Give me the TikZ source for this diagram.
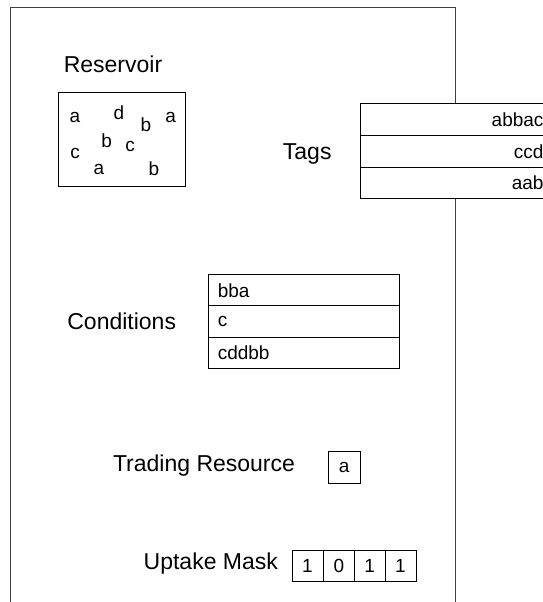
\documentclass[tikz,border=0pt]{standalone}
\usepackage{fontspec}
\setmainfont{Liberation Sans}
\begin{document}
\begin{tikzpicture}[x=1pt,y=-1pt,
  lbl/.style={font=\fontsize{23}{27}\selectfont, inner sep=0pt},
  letter/.style={font=\fontsize{19}{22}\selectfont, inner sep=0pt},
  cell/.style={draw=black, fill=white, line width=1pt, inner sep=0pt, font=\fontsize{19}{22}\selectfont},
  tagrow/.style={cell, anchor=north west, minimum width=220pt, minimum height=31.7pt, text width=146pt, align=right},
  condrow/.style={cell, anchor=north west, minimum width=191pt, minimum height=31.7pt, text width=173pt, align=left},
  maskcell/.style={cell, minimum width=31pt, minimum height=31.7pt},
  frame/.style={draw=black!75, line width=1pt}]
\useasboundingbox[fill=white] (0,0) rectangle (543,602);
% frame
\coordinate (fbl) at (10.5,604);
\coordinate (ftl) at (10.5,8);
\coordinate (ftr) at (455,8);
\coordinate (fbr) at (455,604);
\draw[frame] (fbl) -- (ftl) -- (ftr) -- (fbr);
% reservoir
\node[lbl, anchor=base] (reslbl) at (113,72.3) {Reservoir};
\node[draw, line width=1pt, minimum width=126.7pt, minimum height=94.3pt, inner sep=0pt, anchor=north west] (res) at (58.3,91.7) {};
\node[letter] (r1) at (75,117.7) {a};
\node[letter] (r2) at (119,113) {d};
\node[letter] (r3) at (146,125) {b};
\node[letter] (r4) at (170.7,117.7) {a};
\node[letter] (r5) at (106.7,141) {b};
\node[letter] (r6) at (130,146) {c};
\node[letter] (r7) at (75,153) {c};
\node[letter] (r8) at (99,169) {a};
\node[letter] (r9) at (154,169) {b};
% tags
\node[lbl, anchor=base] (tagslbl) at (307.2,159.3) {Tags};
\node[tagrow] (t1) at (360,103.3) {abbac};
\node[tagrow] (t2) at (360,135) {ccd};
\node[tagrow] (t3) at (360,166.7) {aab};
% conditions
\node[lbl, anchor=base] (condlbl) at (121.7,329.3) {Conditions};
\node[condrow] (c1) at (208.3,274.3) {bba};
\node[condrow] (c2) at (208.3,305) {c};
\node[condrow] (c3) at (208.3,336.7) {cddbb};
% trading resource
\node[lbl, anchor=base] (tradelbl) at (204,471.7) {Trading Resource};
\node[cell, minimum width=31.7pt, minimum height=31.6pt] (trade) at (344.2,467.5) {a};
% uptake mask
\node[lbl, anchor=base] (masklbl) at (210.8,569) {Uptake Mask};
\node[maskcell] (m1) at (307.5,565.85) {1};
\node[maskcell] (m2) at (338.8,565.85) {0};
\node[maskcell] (m3) at (369.65,565.85) {1};
\node[maskcell] (m4) at (400.5,565.85) {1};
\end{tikzpicture}
\end{document}
